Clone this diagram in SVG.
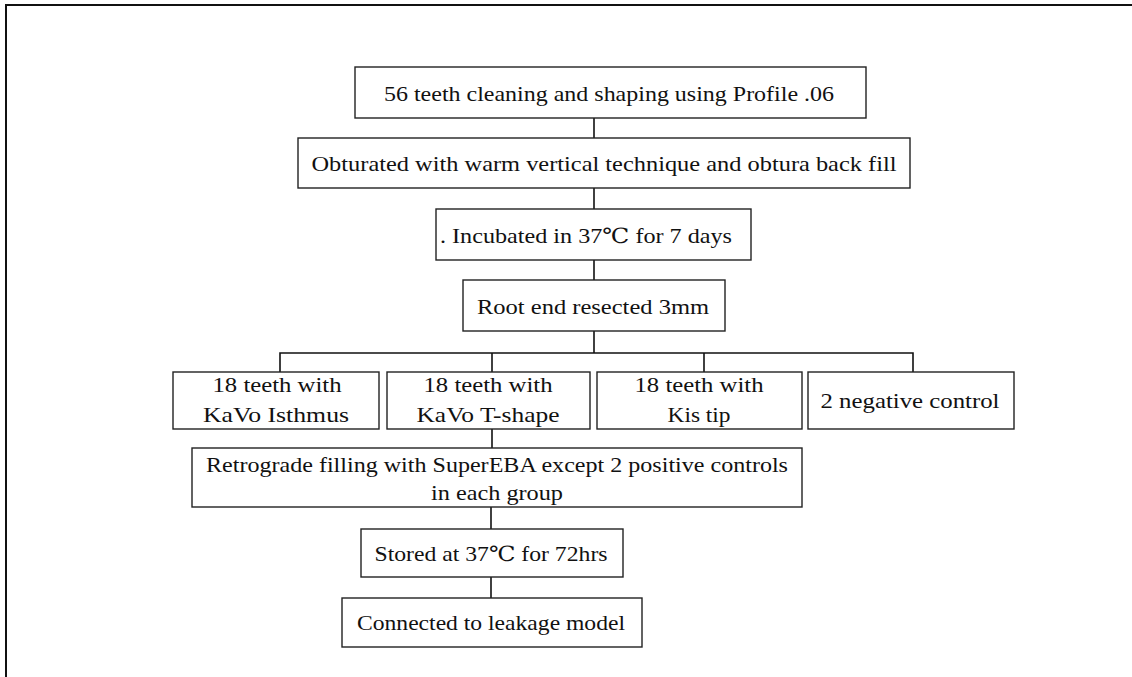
<svg xmlns="http://www.w3.org/2000/svg" width="1132" height="677" viewBox="0 0 1132 677">
<style>
.box{fill:#fff;stroke:#222;stroke-width:1.4}
.t{font-family:"Liberation Serif","DejaVu Serif","Noto Sans CJK KR",serif;font-size:21px;fill:#111;text-anchor:middle}
.c{fill:none;stroke:#111;stroke-width:1.6}
.frame{fill:none;stroke:#111;stroke-width:2}
</style>
<rect x="0" y="0" width="1132" height="677" fill="#fff"/>
<path class="frame" d="M6,677 V5 H1132"/>
<g id="connectors">
<path class="c" d="M594,118 V138"/>
<path class="c" d="M594,188 V209"/>
<path class="c" d="M594,260 V280"/>
<path class="c" d="M594,331 V353"/>
<path class="c" d="M280,372 V353 H913 V372"/>
<path class="c" d="M492,353 V372"/>
<path class="c" d="M704,353 V372"/>
<path class="c" d="M492,429 V448"/>
<path class="c" d="M491,507 V529"/>
<path class="c" d="M491,577 V598"/>
</g>
<g id="n1"><rect class="box" x="355" y="67" width="511" height="51"/><text class="t" x="609" y="101" textLength="450" lengthAdjust="spacingAndGlyphs">56 teeth cleaning and shaping using Profile .06</text></g>
<g id="n2"><rect class="box" x="298" y="138" width="612" height="50"/><text class="t" x="604" y="171" textLength="585" lengthAdjust="spacingAndGlyphs">Obturated with warm vertical technique and obtura back fill</text></g>
<g id="n3"><rect class="box" x="436" y="209" width="315" height="51"/><text class="t" x="586" y="243" textLength="292" lengthAdjust="spacingAndGlyphs">. Incubated in 37℃ for 7 days</text></g>
<g id="n4"><rect class="box" x="463" y="280" width="262" height="51"/><text class="t" x="593" y="314" textLength="232" lengthAdjust="spacingAndGlyphs">Root end resected 3mm</text></g>
<g id="n5"><rect class="box" x="173" y="372" width="206" height="57"/><text class="t" x="277" y="392" textLength="129" lengthAdjust="spacingAndGlyphs">18 teeth with</text><text class="t" x="276" y="422" textLength="146" lengthAdjust="spacingAndGlyphs">KaVo Isthmus</text></g>
<g id="n6"><rect class="box" x="387" y="372" width="203" height="57"/><text class="t" x="488" y="392" textLength="129" lengthAdjust="spacingAndGlyphs">18 teeth with</text><text class="t" x="488" y="422" textLength="143" lengthAdjust="spacingAndGlyphs">KaVo T-shape</text></g>
<g id="n7"><rect class="box" x="597" y="372" width="205" height="57"/><text class="t" x="699" y="392" textLength="129" lengthAdjust="spacingAndGlyphs">18 teeth with</text><text class="t" x="699" y="422" textLength="63" lengthAdjust="spacingAndGlyphs">Kis tip</text></g>
<g id="n8"><rect class="box" x="808" y="372" width="206" height="57"/><text class="t" x="910" y="408" textLength="179" lengthAdjust="spacingAndGlyphs">2 negative control</text></g>
<g id="n9"><rect class="box" x="192" y="448" width="610" height="59"/><text class="t" x="497" y="472" textLength="582" lengthAdjust="spacingAndGlyphs">Retrograde filling with SuperEBA except 2 positive controls</text><text class="t" x="497" y="500" textLength="132" lengthAdjust="spacingAndGlyphs">in each group</text></g>
<g id="n10"><rect class="box" x="361" y="529" width="262" height="48"/><text class="t" x="491" y="561" textLength="233" lengthAdjust="spacingAndGlyphs">Stored at 37℃ for 72hrs</text></g>
<g id="n11"><rect class="box" x="342" y="598" width="300" height="49"/><text class="t" x="491" y="630" textLength="268" lengthAdjust="spacingAndGlyphs">Connected to leakage model</text></g>
</svg>
